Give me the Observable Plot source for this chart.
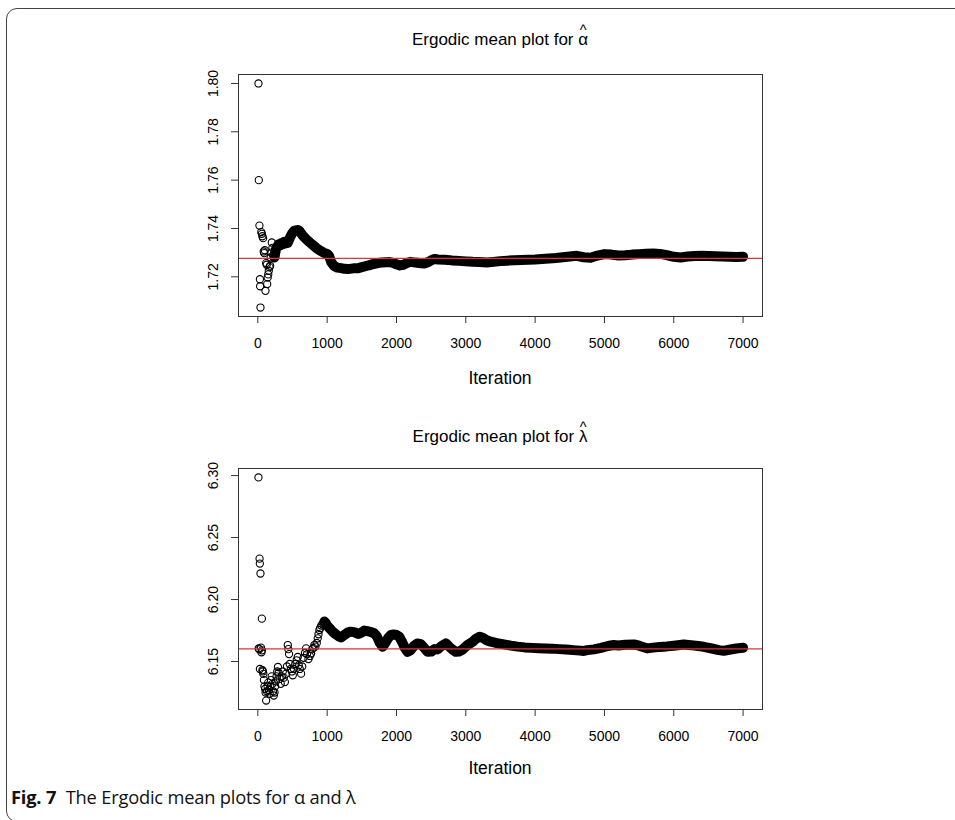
<!DOCTYPE html>
<html>
<head>
<meta charset="utf-8">
<script src="https://cdn.jsdelivr.net/npm/d3@7"></script>
<script src="https://cdn.jsdelivr.net/npm/@observablehq/plot@0.6"></script>
<style>
  html, body { margin: 0; padding: 0; background: #fff; }
  #page { position: relative; width: 955px; height: 820px; overflow: hidden; font-family: "Liberation Sans", Arial, sans-serif; color: #000; }
  #border { position: absolute; left: 6px; top: 8px; width: 990px; height: 814px; border: 1.3px solid #444; border-radius: 11px; box-sizing: border-box; }
  .title { position: absolute; left: 238px; width: 524px; text-align: center; font-size: 17px; line-height: 20px; }
  .acc { position: relative; display: inline-block; }
  .caret { position: absolute; left: 0; right: 0; top: -0.5em; text-align: center; font-size: 0.85em; line-height: 1; }
  .xlab { position: absolute; left: 238px; width: 524px; text-align: center; font-size: 17.5px; line-height: 20px; }
  .chart { position: absolute; left: 0; }
  #caption { position: absolute; left: 11px; top: 784px; font-family: "Open Sans", "Noto Sans", sans-serif; font-size: 18.3px; color: #111; letter-spacing: -0.2px; }
  #caption b { font-weight: 700; margin-right: 5px; }
</style>
</head>
<body>
<div id="page">
  <div id="border"></div>
  <div class="title" style="top:30px">Ergodic mean plot for <span class="acc"><span class="caret">^</span>α</span></div>
  <div class="chart" id="chartA" style="top:60px"></div>
  <div class="xlab" style="top:368px">Iteration</div>
  <div class="title" style="top:427px">Ergodic mean plot for <span class="acc"><span class="caret">^</span>λ</span></div>
  <div class="chart" id="chartL" style="top:450px"></div>
  <div class="xlab" style="top:758px">Iteration</div>
  <div id="caption"><b>Fig. 7</b> The Ergodic mean plots for α and λ</div>
</div>
<script>
// Ergodic (running) mean of the alpha chain: iteration number and running mean
const alphaIter = [9, 14, 23, 30, 33, 38, 50, 58, 65, 76, 85, 92, 100, 110, 120, 128, 135, 142, 150, 158,
  168, 177, 185, 192, 201, 210, 222, 240, 252, 263, 280, 300, 320, 340, 360, 380, 400, 430, 460, 480,
  500, 525, 550, 575, 600, 625, 650, 700, 750, 800, 850, 900, 950, 1000, 1030, 1060, 1100, 1150, 1200, 1250,
  1300, 1350, 1400, 1450, 1500, 1550, 1600, 1650, 1700, 1750, 1800, 1850, 1900, 1950, 2000, 2050, 2100, 2150, 2200, 2250,
  2300, 2350, 2400, 2450, 2500, 2550, 2600, 2700, 2800, 2900, 3000, 3100, 3200, 3300, 3400, 3500, 3600, 3700, 3800, 3900,
  4000, 4100, 4200, 4300, 4400, 4500, 4600, 4700, 4800, 4900, 5000, 5100, 5200, 5300, 5400, 5500, 5600, 5700, 5800, 5900,
  6000, 6100, 6200, 6300, 6400, 6500, 6600, 6700, 6800, 6900, 7000];
const alphaMean = [1.8000, 1.7600, 1.7412, 1.7190, 1.7161, 1.7073, 1.7385, 1.7378, 1.7368, 1.7360, 1.7305, 1.7298, 1.7310, 1.7142, 1.7257, 1.7250, 1.7170, 1.7197, 1.7210, 1.7225,
  1.7240, 1.7246, 1.7280, 1.7300, 1.7342, 1.7320, 1.7290, 1.7280, 1.7300, 1.7315, 1.7325, 1.7335, 1.7330, 1.7340, 1.7335, 1.7345, 1.7338, 1.7340, 1.7360, 1.7372,
  1.7382, 1.7390, 1.7392, 1.7394, 1.7390, 1.7380, 1.7370, 1.7355, 1.7342, 1.7330, 1.7318, 1.7308, 1.7300, 1.7295, 1.7285, 1.7260, 1.7245, 1.7238, 1.7236, 1.7233,
  1.7232, 1.7234, 1.7236, 1.7236, 1.7240, 1.7244, 1.7247, 1.7252, 1.7255, 1.7258, 1.7259, 1.7260, 1.7261, 1.7258, 1.7252, 1.7247, 1.7250, 1.7257, 1.7262, 1.7260,
  1.7258, 1.7256, 1.7255, 1.7260, 1.7268, 1.7274, 1.7272, 1.7271, 1.7268, 1.7266, 1.7264, 1.7262, 1.7261, 1.7259, 1.7262, 1.7265, 1.7267, 1.7269, 1.7270, 1.7271,
  1.7272, 1.7274, 1.7276, 1.7278, 1.7281, 1.7284, 1.7287, 1.7281, 1.7279, 1.7288, 1.7294, 1.7292, 1.7288, 1.7289, 1.7292, 1.7294, 1.7296, 1.7297, 1.7295, 1.7290,
  1.7283, 1.7280, 1.7284, 1.7286, 1.7287, 1.7286, 1.7285, 1.7284, 1.7283, 1.7282, 1.7283];
const alphaRef = 1.7276;          // posterior estimate drawn as the red reference line
const alphaSolidFrom = 240;       // the chain of circles merges into a solid band from here on
const alphaTicks = [1.72, 1.74, 1.76, 1.78, 1.80];

// Ergodic (running) mean of the lambda chain
const lambdaIter = [9, 12, 20, 25, 29, 30, 38, 45, 52, 58, 60, 66, 72, 80, 88, 95, 105, 112, 120, 130,
  140, 150, 160, 170, 180, 190, 200, 210, 220, 230, 240, 250, 260, 270, 280, 290, 300, 315, 330, 345,
  360, 375, 390, 405, 420, 432, 440, 450, 460, 475, 490, 504, 520, 540, 560, 576, 590, 605, 624, 640,
  660, 680, 696, 710, 730, 750, 768, 785, 800, 816, 830, 850, 864, 875, 888, 900, 915, 930, 945, 960,
  975, 1000, 1040, 1080, 1120, 1160, 1200, 1250, 1300, 1344, 1400, 1450, 1500, 1536, 1580, 1630, 1680, 1720, 1760, 1800,
  1840, 1880, 1920, 1960, 2000, 2040, 2080, 2120, 2160, 2200, 2250, 2300, 2350, 2400, 2448, 2500, 2550, 2592, 2650, 2712,
  2760, 2800, 2856, 2900, 2950, 3025, 3100, 3150, 3200, 3250, 3300, 3360, 3450, 3550, 3650, 3750, 3850, 3950, 4050, 4150,
  4250, 4350, 4450, 4550, 4650, 4700, 4750, 4850, 4950, 5050, 5136, 5200, 5300, 5424, 5500, 5617, 5700, 5800, 5900, 6000,
  6144, 6250, 6350, 6432, 6550, 6650, 6720, 6800, 6900, 7000];
const lambdaMean = [6.2985, 6.1605, 6.1598, 6.2330, 6.2290, 6.1440, 6.2210, 6.1612, 6.1575, 6.1846, 6.1590, 6.1430, 6.1420, 6.1400, 6.1350, 6.1300, 6.1280, 6.1250, 6.1185, 6.1260,
  6.1300, 6.1330, 6.1270, 6.1240, 6.1300, 6.1350, 6.1380, 6.1320, 6.1260, 6.1226, 6.1250, 6.1300, 6.1340, 6.1380, 6.1420, 6.1456, 6.1410, 6.1360, 6.1320, 6.1380,
  6.1420, 6.1370, 6.1334, 6.1400, 6.1460, 6.1633, 6.1600, 6.1560, 6.1480, 6.1440, 6.1420, 6.1389, 6.1440, 6.1480, 6.1510, 6.1537, 6.1470, 6.1440, 6.1402, 6.1460,
  6.1530, 6.1570, 6.1606, 6.1560, 6.1520, 6.1545, 6.1565, 6.1600, 6.1610, 6.1633, 6.1620, 6.1650, 6.1687, 6.1720, 6.1754, 6.1770, 6.1790, 6.1800, 6.1810, 6.1822,
  6.1815, 6.1790, 6.1765, 6.1740, 6.1722, 6.1705, 6.1695, 6.1715, 6.1735, 6.1741, 6.1735, 6.1722, 6.1735, 6.1750, 6.1745, 6.1738, 6.1728, 6.1700, 6.1650, 6.1619,
  6.1650, 6.1690, 6.1714, 6.1718, 6.1714, 6.1700, 6.1660, 6.1610, 6.1578, 6.1590, 6.1625, 6.1646, 6.1640, 6.1610, 6.1578, 6.1580, 6.1600, 6.1598, 6.1625, 6.1646,
  6.1620, 6.1600, 6.1578, 6.1580, 6.1595, 6.1633, 6.1660, 6.1685, 6.1700, 6.1690, 6.1672, 6.1660, 6.1648, 6.1638, 6.1628, 6.1620, 6.1614, 6.1610, 6.1607, 6.1605,
  6.1604, 6.1600, 6.1597, 6.1592, 6.1588, 6.1585, 6.1592, 6.1598, 6.1610, 6.1625, 6.1633, 6.1630, 6.1635, 6.1638, 6.1628, 6.1606, 6.1612, 6.1618, 6.1622, 6.1628,
  6.1638, 6.1632, 6.1625, 6.1619, 6.1605, 6.1592, 6.1586, 6.1595, 6.1605, 6.1611];
const lambdaRef = 6.1602;
const lambdaSolidFrom = 960;
const lambdaTicks = [6.15, 6.20, 6.25, 6.30];

const xTicks = [0, 1000, 2000, 3000, 4000, 5000, 6000, 7000];
const nIter = 7000;

// R-style axis ranges: data range padded by 4% on each side
function padded(lo, hi) {
  const d = (hi - lo) * 0.04;
  return [lo - d, hi + d];
}

function ergodicPlot({iter, mean, ref, solidFrom, yTicks, marginTop, marginBottom, height}) {
  const rows = iter.map((t, i) => ({t, m: mean[i]}));
  const solid = rows.filter(d => d.t >= solidFrom);
  return Plot.plot({
    width: 800,
    height,
    marginLeft: 238,
    marginRight: 38,
    marginTop,
    marginBottom,
    style: {fontFamily: "'Liberation Sans', Arial, sans-serif", fontSize: "14px", color: "#000", background: "transparent"},
    x: {domain: padded(1, nIter)},
    y: {domain: padded(d3.min(mean), d3.max(mean))},
    marks: [
      Plot.line(solid, {x: "t", y: "m", stroke: "#000", strokeWidth: 10, strokeLinecap: "round", strokeLinejoin: "round"}),
      Plot.dot(rows, {x: "t", y: "m", r: 3.6, stroke: "#000", strokeWidth: 1.1, fill: "none"}),
      Plot.ruleY([ref], {stroke: "#d9363a", strokeWidth: 1.2}),
      Plot.frame({stroke: "#333", strokeWidth: 1}),
      Plot.axisX({ticks: xTicks, tickSize: 7, tickPadding: 15, tickFormat: d => String(d), label: null, stroke: "#333"}),
      Plot.axisY({ticks: yTicks, tickSize: 7, tickPadding: 14, tickRotate: -90, tickFormat: d3.format(".2f"), label: null, stroke: "#333"})
    ]
  });
}

document.getElementById("chartA").append(ergodicPlot({
  iter: alphaIter, mean: alphaMean, ref: alphaRef, solidFrom: alphaSolidFrom, yTicks: alphaTicks,
  marginTop: 14, marginBottom: 64, height: 320
}));
document.getElementById("chartL").append(ergodicPlot({
  iter: lambdaIter, mean: lambdaMean, ref: lambdaRef, solidFrom: lambdaSolidFrom, yTicks: lambdaTicks,
  marginTop: 18, marginBottom: 61, height: 320
}));
</script>
</body>
</html>
